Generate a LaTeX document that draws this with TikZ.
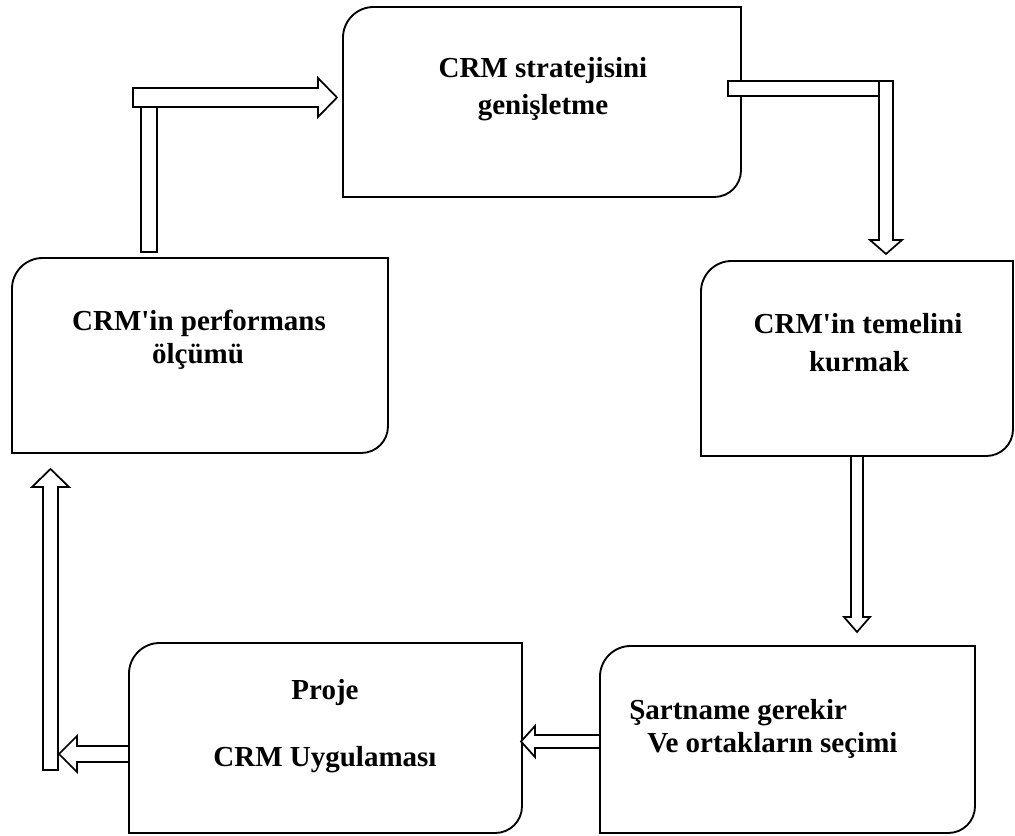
\documentclass[tikz,border=0pt]{standalone}
\usepackage{fontspec}
\setmainfont{Liberation Serif}
\usetikzlibrary{fit,calc}

\tikzset{
  boxarea/.style={inner sep=0pt, outer sep=0pt, draw=none},
  boxline/.style={line width=1.4pt, draw=black},
  blockarrow/.style={line width=1.3pt, draw=black, fill=white, line join=miter},
  label/.style={inner sep=0pt, font=\fontsize{21.75}{26}\selectfont\bfseries},
}

% outline with rounded top-left and bottom-right corners
\newcommand\diagbox[1]{%
  \draw[boxline] (#1.south west) -- ([yshift=-23pt]#1.north west)
    arc[start angle=180, end angle=90, radius=23pt] -- (#1.north east)
    -- ([yshift=20pt]#1.south east)
    arc[start angle=0, end angle=-90, radius=20pt] -- cycle;}

\begin{document}
\begin{tikzpicture}[x=0.75pt, y=0.75pt]
\useasboundingbox (0,0) rectangle (1015,836);

% boxes
\node[boxarea, fit={(343,639) (741,829)}] (b1) {};
\node[boxarea, fit={(701,380) (1013,575)}] (b2) {};
\node[boxarea, fit={(12,383) (388,578)}] (b3) {};
\node[boxarea, fit={(129,3) (522,193)}] (b4) {};
\node[boxarea, fit={(600,3) (975,190)}] (b5) {};
\foreach \b in {b1,b2,b3,b4,b5} {\diagbox{\b}}

% texts
\node[label, anchor=base] (t1a) at (543,758) {CRM stratejisini};
\node[label, anchor=base] (t1b) at (543,721) {genişletme};
\node[label, anchor=base] (t2a) at (858,502) {CRM\textquotesingle in temelini};
\node[label, anchor=base] (t2b) at (859,464) {kurmak};
\node[label, anchor=base] (t3a) at (199,505) {CRM\textquotesingle in performans};
\node[label, anchor=base] (t3b) at (198,472) {ölçümü};
\node[label, anchor=base] (t4a) at (325,136) {Proje};
\node[label, anchor=base] (t4b) at (325,69) {CRM Uygulaması};
\node[label, anchor=base west] (t5a) at (629,116) {Şartname gerekir};
\node[label, anchor=base west] (t5b) at (647,83) {Ve ortakların seçimi};

% b3 -> b1
\filldraw[blockarrow] (141,584) rectangle (157,748);
\filldraw[blockarrow] (133,729) -- (318,729) -- (318,719) -- (337,738.5)
  -- (318,758) -- (318,748) -- (133,748) -- cycle;

% b1 -> b2
\filldraw[blockarrow] (728,740) rectangle (893,755);
\filldraw[blockarrow] (879,755) -- (879,596) -- (870,596) -- (886,582)
  -- (902,596) -- (893,596) -- (893,755) -- cycle;

% b2 -> b5
\filldraw[blockarrow] (851,380) -- (851,219) -- (844,219) -- (857,204)
  -- (870,219) -- (863,219) -- (863,380) -- cycle;

% b5 -> b4
\filldraw[blockarrow] (600,88) -- (535,88) -- (535,79) -- (521,94.5)
  -- (535,110) -- (535,101) -- (600,101) -- cycle;

% b4 -> b3
\filldraw[blockarrow] (43,66) -- (43,349) -- (32,349) -- (50.5,367)
  -- (69,349) -- (58,349) -- (58,66) -- cycle;
\filldraw[blockarrow] (129,74) -- (77,74) -- (77,64) -- (59,82)
  -- (77,100) -- (77,90) -- (129,90) -- cycle;
\end{tikzpicture}
\end{document}
